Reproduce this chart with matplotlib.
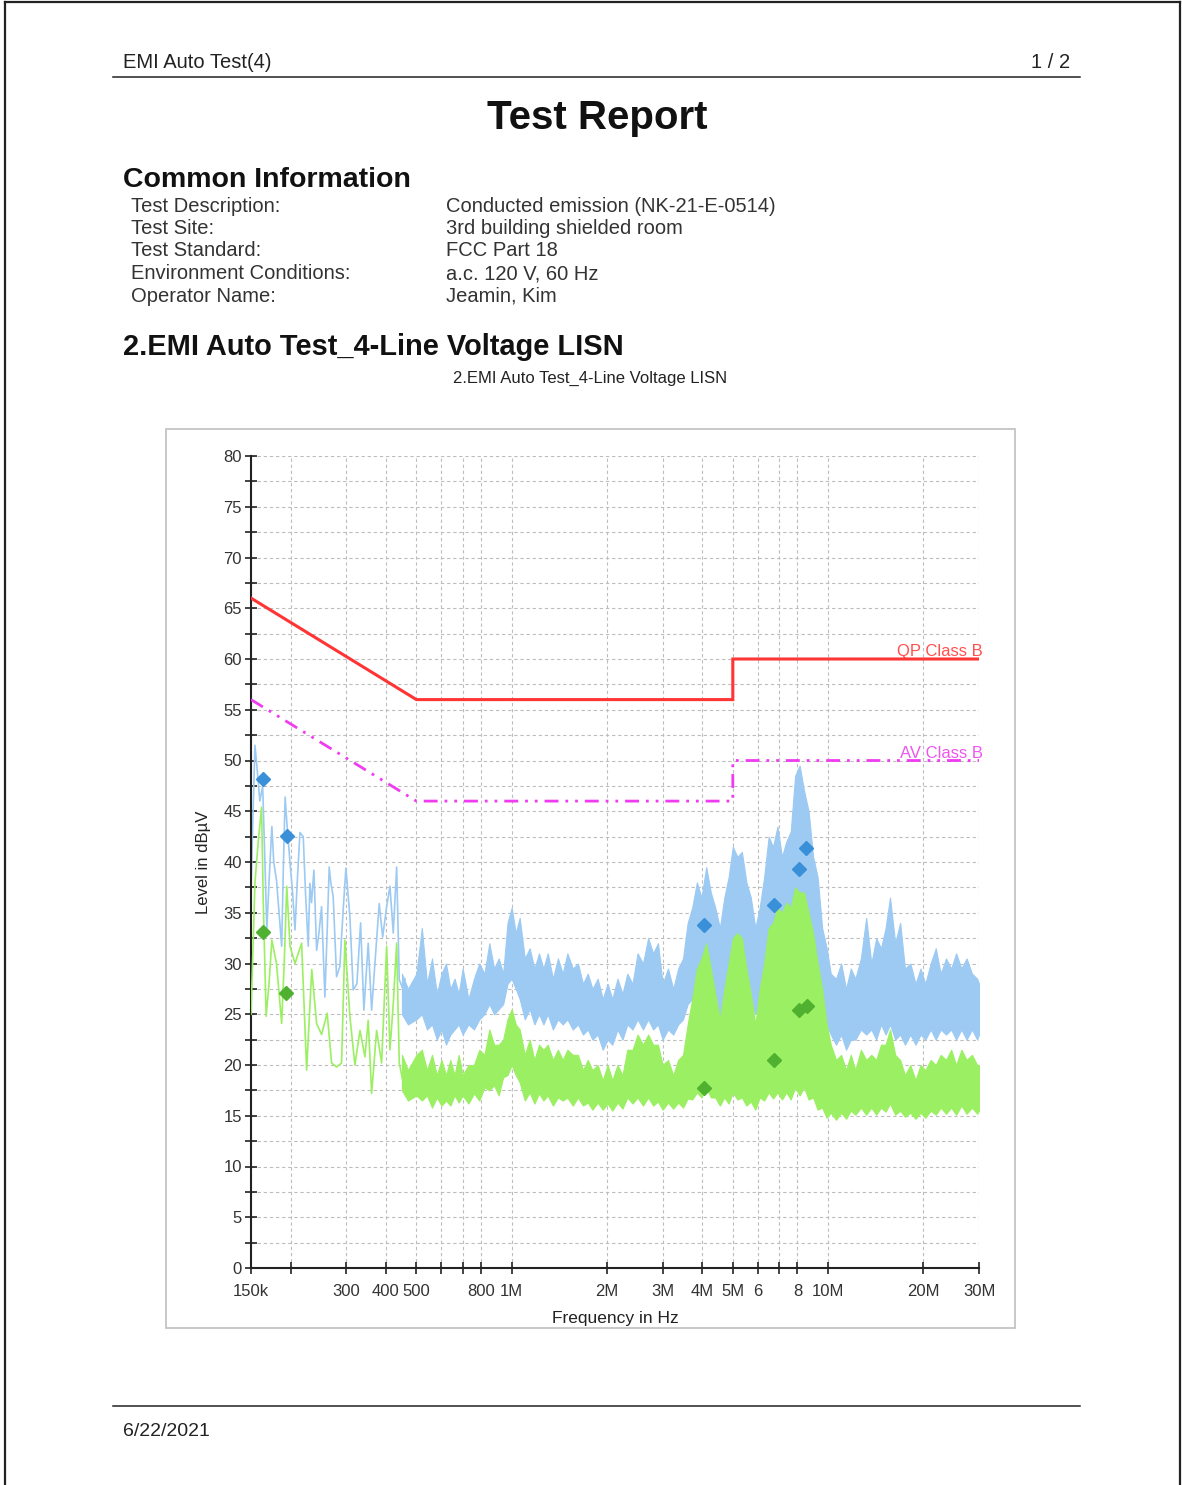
import matplotlib.pyplot as plt
from matplotlib.lines import Line2D
from matplotlib.patches import Rectangle
from matplotlib.ticker import FixedLocator, MultipleLocator, NullLocator

plt.rcParams['font.family'] = ['Liberation Sans', 'DejaVu Sans']

# ---- report header data ----
info_labels = ['Test Description:', 'Test Site:', 'Test Standard:',
               'Environment Conditions:', 'Operator Name:']
info_values = ['Conducted emission (NK-21-E-0514)', '3rd building shielded room',
               'FCC Part 18', 'a.c. 120 V, 60 Hz', 'Jeamin, Kim']

# ---- limit lines (MHz, dBuV) ----
qp_limit_freq = [0.15, 0.5, 5.0, 5.0, 30.0]
qp_limit_level = [66, 56, 56, 60, 60]
av_limit_freq = [0.15, 0.5, 5.0, 5.0, 30.0]
av_limit_level = [56, 46, 46, 50, 50]

# ---- low band sweep, single trace (kHz, dBuV) ----
pk_low_freq = [150.0, 152.0, 154.4, 157.0, 160.0, 163.3, 166.0, 168.3, 171.0, 174.6,
               177.0, 180.6, 184.0, 187.5, 190.0, 192.3, 194.6, 199.3, 203.0, 206.6,
               210.0, 214.2, 219.4, 223.0, 227.5, 230.3, 233.0, 237.1, 241.8, 246.0,
               250.7, 256.8, 261.0, 265.0, 268.0, 272.8, 279.6, 286.4, 293.0, 299.3,
               308.1, 315.6, 324.2, 333.1, 341.1, 352.0, 360.9, 369.6, 381.4, 391.0,
               402.6, 412.4, 422.4, 433.0, 441.3, 454.4, 460.0]
pk_low_level = [37.0, 44.0, 51.5, 49.0, 46.0, 47.5, 40.0, 33.3, 38.0, 43.5,
                40.0, 38.2, 35.0, 31.7, 40.0, 46.4, 44.0, 39.9, 37.0, 33.3,
                38.0, 42.9, 42.5, 37.0, 31.7, 37.9, 36.0, 39.2, 31.3, 33.0,
                35.6, 26.7, 33.0, 39.5, 38.0, 36.6, 28.7, 29.7, 35.0, 39.4,
                34.6, 27.4, 28.0, 34.0, 25.4, 32.0, 25.4, 30.0, 35.9, 32.6,
                35.6, 37.6, 33.0, 39.5, 28.4, 27.4, 28.5]

av_low_freq = [150.0, 150.8, 154.4, 158.1, 162.0, 164.0, 167.5, 171.0, 174.6, 180.6,
               187.5, 191.0, 194.6, 199.3, 206.6, 216.8, 224.9, 233.4, 241.8, 250.7,
               261.1, 269.7, 279.6, 290.0, 297.1, 308.1, 319.5, 331.6, 343.7, 352.0,
               360.9, 374.2, 388.1, 402.6, 412.4, 422.4, 433.0, 441.3, 454.4, 460.0]
av_low_level = [25.0, 27.4, 38.0, 42.0, 45.4, 36.0, 24.8, 28.0, 32.3, 30.0,
                24.1, 30.0, 37.6, 31.7, 30.0, 32.0, 19.5, 29.4, 24.1, 23.0,
                25.1, 20.2, 19.8, 20.2, 32.3, 24.8, 20.0, 23.4, 20.8, 24.4,
                17.2, 23.4, 20.2, 31.7, 21.5, 26.0, 32.0, 20.2, 18.2, 19.5]

# ---- dense sweep above 450 kHz: min/max envelope (MHz, dBuV) ----
env_freq = [0.45, 0.47, 0.50, 0.52, 0.54, 0.56, 0.58, 0.60, 0.62, 0.64,
            0.66, 0.68, 0.70, 0.73, 0.76, 0.79, 0.82, 0.85, 0.88, 0.91,
            0.94, 0.97, 1.00, 1.03, 1.06, 1.10, 1.14, 1.18, 1.22, 1.26,
            1.30, 1.35, 1.40, 1.45, 1.50, 1.56, 1.62, 1.68, 1.74, 1.80,
            1.87, 1.94, 2.01, 2.08, 2.16, 2.24, 2.32, 2.41, 2.50, 2.60,
            2.70, 2.80, 2.90, 3.00, 3.12, 3.24, 3.36, 3.48, 3.60, 3.72,
            3.85, 3.98, 4.12, 4.26, 4.40, 4.55, 4.70, 4.85, 5.00, 5.17,
            5.34, 5.52, 5.70, 5.89, 6.08, 6.28, 6.49, 6.70, 6.92, 7.15,
            7.38, 7.62, 7.87, 8.13, 8.40, 8.68, 8.97, 9.27, 9.58, 9.90,
            10.2, 10.6, 11.0, 11.4, 11.8, 12.2, 12.7, 13.2, 13.7, 14.2,
            14.7, 15.2, 15.7, 16.3, 16.9, 17.5, 18.2, 18.9, 19.6, 20.3,
            21.1, 21.9, 22.7, 23.6, 24.5, 25.4, 26.4, 27.4, 28.5, 29.6,
            30.0]
pk_env_hi = [29.0, 27.5, 29.0, 33.5, 28.0, 30.5, 27.0, 29.0, 30.0, 27.5,
             28.5, 27.0, 29.5, 26.5, 28.5, 30.0, 29.0, 32.0, 29.5, 30.5,
             29.0, 34.0, 35.5, 33.0, 34.5, 30.5, 31.5, 29.5, 31.0, 29.5,
             31.0, 28.5, 30.5, 29.0, 31.0, 29.5, 30.0, 28.0, 29.0, 27.5,
             28.5, 26.5, 28.0, 26.5, 28.5, 27.0, 29.0, 28.0, 31.0, 30.0,
             32.5, 31.0, 32.0, 28.0, 29.5, 27.5, 29.5, 30.5, 34.0, 35.5,
             38.0, 36.5, 39.5, 37.0, 35.5, 33.5, 36.5, 38.5, 41.5, 40.5,
             41.0, 38.0, 36.5, 33.5, 35.5, 38.5, 42.5, 41.5, 43.5, 40.5,
             42.0, 43.0, 48.5, 49.5, 47.0, 45.0, 40.5, 38.5, 33.5, 31.5,
             29.0, 28.5, 30.0, 27.5, 29.5, 28.5, 30.5, 34.5, 30.0, 32.5,
             31.5, 33.5, 36.5, 32.0, 34.0, 29.5, 30.0, 28.0, 29.5, 28.0,
             30.0, 31.5, 29.0, 30.5, 29.5, 31.0, 29.5, 30.5, 29.0, 28.5,
             28.0]
pk_env_lo = [25.0, 24.0, 24.5, 25.0, 23.5, 24.0, 22.5, 23.5, 22.0, 23.0,
             23.5, 24.0, 23.0, 24.0, 23.5, 24.5, 25.0, 26.0, 25.0, 25.5,
             26.0, 28.0, 28.5, 27.5, 26.5, 24.5, 25.5, 24.0, 25.0, 24.0,
             25.0, 23.5, 24.5, 24.0, 24.5, 23.5, 24.0, 23.0, 23.5, 22.5,
             23.0, 21.5, 22.5, 22.0, 23.5, 22.5, 24.0, 23.5, 24.5, 23.5,
             24.5, 23.5, 24.0, 22.5, 23.5, 23.0, 24.0, 24.5, 26.0, 26.5,
             28.0, 29.0, 29.0, 28.0, 25.0, 24.0, 25.0, 27.0, 29.0, 30.0,
             29.0, 27.0, 26.0, 25.0, 26.0, 28.0, 30.0, 31.0, 31.0, 30.5,
             30.0, 31.0, 32.0, 32.5, 32.0, 31.0, 29.0, 27.0, 25.0, 24.0,
             23.0, 22.0, 23.0, 21.5, 22.5, 22.5, 23.5, 23.0, 23.5, 22.5,
             24.0, 23.0, 24.0, 22.5, 23.0, 22.0, 23.0, 22.0, 23.0, 22.5,
             23.5, 22.5, 23.5, 23.0, 23.5, 22.5, 23.5, 22.5, 23.5, 22.5,
             23.0]
av_env_hi = [21.0, 19.5, 21.0, 21.5, 19.5, 21.0, 19.0, 20.5, 19.0, 20.5,
             19.0, 21.0, 19.0, 20.0, 20.0, 21.5, 21.0, 23.5, 22.0, 22.0,
             22.5, 24.5, 25.5, 24.0, 23.5, 21.0, 22.5, 20.5, 22.0, 21.5,
             22.0, 20.5, 21.5, 20.5, 21.5, 21.0, 21.0, 19.5, 20.5, 19.5,
             20.0, 18.5, 20.0, 18.5, 20.0, 19.0, 21.5, 21.5, 23.0, 22.0,
             23.0, 22.0, 22.0, 20.0, 20.5, 19.0, 20.5, 21.0, 24.0, 26.5,
             29.5, 30.5, 32.0, 29.5, 27.0, 24.5, 27.5, 30.0, 32.5, 33.0,
             32.5, 29.5, 27.0, 24.0, 27.5, 30.0, 33.5, 34.0, 35.5, 35.0,
             36.0, 35.5, 37.5, 37.0, 37.0, 35.0, 33.0, 30.0, 27.5, 24.0,
             22.0, 20.5, 21.0, 19.5, 21.0, 19.5, 21.5, 20.5, 21.0, 20.5,
             22.0, 22.0, 23.5, 21.0, 20.5, 19.0, 20.0, 18.5, 20.0, 19.5,
             20.5, 20.0, 21.0, 20.5, 21.5, 20.0, 21.5, 20.5, 21.0, 20.0,
             20.0]
av_env_lo = [17.5, 16.5, 17.0, 16.5, 17.0, 15.8, 16.8, 16.0, 16.5, 16.0,
             17.0, 16.3, 17.0, 16.2, 17.2, 16.5, 17.8, 17.5, 18.0, 17.0,
             18.8, 19.0, 20.0, 19.0, 18.3, 16.5, 17.3, 16.2, 17.2, 16.5,
             17.0, 16.0, 16.8, 16.5, 16.8, 16.0, 16.8, 16.0, 16.3, 15.6,
             16.3, 15.6, 16.2, 15.5, 16.3, 15.7, 16.8, 16.2, 16.8, 16.0,
             16.8, 16.0, 16.4, 15.6, 16.3, 15.7, 16.3, 15.8, 16.7, 16.6,
             17.3, 16.8, 17.8, 16.8, 16.8, 16.0, 16.8, 16.2, 17.3, 16.6,
             16.8, 16.0, 16.4, 15.6, 16.8, 16.5, 17.3, 16.7, 17.3, 16.6,
             17.3, 16.6, 17.8, 17.0, 17.8, 16.6, 16.8, 15.6, 15.8, 14.8,
             15.3, 14.6, 15.3, 14.7, 15.5, 15.1, 15.8, 15.1, 15.8, 15.1,
             15.8, 15.4, 16.2, 15.1, 15.5, 14.9, 15.3, 14.7, 15.3, 14.8,
             15.5, 15.1, 15.8, 15.2, 15.8, 15.1, 16.0, 15.2, 15.8, 15.2,
             15.5]

# ---- final measurement points (MHz, dBuV) ----
qp_pts_freq = [0.1633, 0.1946, 4.05, 6.75, 8.09, 8.52]
qp_pts_level = [48.2, 42.6, 33.8, 35.8, 39.3, 41.4]
av_pts_freq = [0.1633, 0.1940, 4.05, 6.77, 8.10, 8.57]
av_pts_level = [33.1, 27.1, 17.7, 20.5, 25.4, 25.8]

# ---- axis ticks ----
x_ticks_mhz = [0.15, 0.2, 0.3, 0.4, 0.5, 0.6, 0.7, 0.8, 1, 2, 3, 4, 5, 6, 7, 8, 10, 20, 30]
x_tick_labels = ['150k', '', '300', '400', '500', '', '', '800', '1M', '2M', '3M',
                 '4M', '5M', '6', '', '8', '10M', '20M', '30M']

PEAK_COLOR = '#9ccaf3'
AVG_COLOR = '#9bef62'

W, H = 1182, 1485


def pos(x, y):
    # pixel position on the page -> figure fraction
    return x / W, 1 - y / H


fig = plt.figure(figsize=(W / 100, H / 100), dpi=100)

# page border and header / footer rules
for xs, ys, lw in [((5, 5), (2, H), 1.6), ((5, 1180), (2, 2), 1.6), ((1180, 1180), (2, H), 1.6),
                   ((113, 1080), (77, 77), 1.1), ((113, 1080), (1406, 1406), 1.1)]:
    fig.add_artist(Line2D([xs[0] / W, xs[1] / W], [1 - ys[0] / H, 1 - ys[1] / H],
                          transform=fig.transFigure, color='#222222', lw=lw))

fig.text(*pos(123, 62), 'EMI Auto Test(4)', fontsize=14.5, va='center', color='#222222')
fig.text(*pos(1070, 62), '1 / 2', fontsize=14.5, va='center', ha='right', color='#222222')
fig.text(*pos(597, 118), 'Test Report', fontsize=29, weight='bold', ha='center', va='center', color='#111111')
fig.text(*pos(123, 180), 'Common Information', fontsize=20.5, weight='bold', va='center', color='#111111')
for i, (lab, val) in enumerate(zip(info_labels, info_values)):
    y = 206 + i * 22.5
    fig.text(*pos(131, y), lab, fontsize=14.5, va='center', color='#333333')
    fig.text(*pos(446, y), val, fontsize=14.5, va='center', color='#333333')
fig.text(*pos(123, 347), '2.EMI Auto Test_4-Line Voltage LISN', fontsize=20.9, weight='bold',
         va='center', color='#111111')
fig.text(*pos(590, 378), '2.EMI Auto Test_4-Line Voltage LISN', fontsize=12, ha='center',
         va='center', color='#222222')
fig.text(*pos(123, 1432), '6/22/2021', fontsize=14, va='center', color='#222222')

# light frame around the chart
fig.add_artist(Rectangle(pos(166, 1328), 849 / W, 899 / H, transform=fig.transFigure,
                         fill=False, ec='#c4c4c4', lw=1.3))

ax = fig.add_axes([251 / W, 1 - 1268 / H, 728 / W, 812 / H])
ax.set_xscale('log')

env_hz = [f * 1e6 for f in env_freq]

# peak detector sweep
ax.plot([f * 1e3 for f in pk_low_freq], pk_low_level, color=PEAK_COLOR, lw=1.2, zorder=2)
ax.fill_between(env_hz, pk_env_lo, pk_env_hi, color=PEAK_COLOR, lw=0.8, zorder=2)

# average detector sweep
ax.plot([f * 1e3 for f in av_low_freq], av_low_level, color=AVG_COLOR, lw=1.2, zorder=3)
ax.fill_between(env_hz, av_env_lo, av_env_hi, color=AVG_COLOR, lw=0.8, zorder=3)

# limit lines
ax.plot([f * 1e6 for f in qp_limit_freq], qp_limit_level, color='#ff3535', lw=2.2,
        solid_joinstyle='miter', zorder=4)
ax.plot([f * 1e6 for f in av_limit_freq], av_limit_level, color='#f03cf0', lw=2.0,
        dashes=(5, 2.5, 1, 2.5, 1, 2.5), zorder=4)
ax.text(30.9e6, 60.0, 'QP Class B', ha='right', va='bottom', fontsize=12, color='#ff5050')
ax.text(30.9e6, 50.0, 'AV Class B', ha='right', va='bottom', fontsize=12, color='#ee55ee')

# final measurement markers
ax.plot([f * 1e6 for f in qp_pts_freq], qp_pts_level, 'D', ms=7.5, color='#3a8fd9', zorder=5)
ax.plot([f * 1e6 for f in av_pts_freq], av_pts_level, 'D', ms=7.5, color='#4fb12f', zorder=5)

ax.set_xlim(0.15e6, 30e6)
ax.set_ylim(0, 80)
ax.xaxis.set_major_locator(FixedLocator([f * 1e6 for f in x_ticks_mhz]))
ax.xaxis.set_minor_locator(NullLocator())
ax.set_xticklabels(x_tick_labels)
ax.yaxis.set_major_locator(MultipleLocator(5))
ax.yaxis.set_minor_locator(MultipleLocator(2.5))

ax.tick_params(which='both', direction='inout', length=9, width=1.2, color='#222222',
               labelsize=12, labelcolor='#333333')
ax.tick_params(axis='x', pad=7)
ax.tick_params(axis='y', pad=2)
ax.grid(which='both', color='#bdbdbd', ls=(0, (3, 2.5)), lw=0.8)
ax.set_axisbelow(True)

for side in ('top', 'right'):
    ax.spines[side].set_visible(False)
for side in ('left', 'bottom'):
    ax.spines[side].set_color('#222222')
    ax.spines[side].set_linewidth(1.5)

ax.set_xlabel('Frequency in Hz', fontsize=12.5, color='#222222', labelpad=9)
ax.set_ylabel('Level in dBµV', fontsize=12, color='#222222', labelpad=9)

fig.savefig('out.png', dpi=100, facecolor='white')
